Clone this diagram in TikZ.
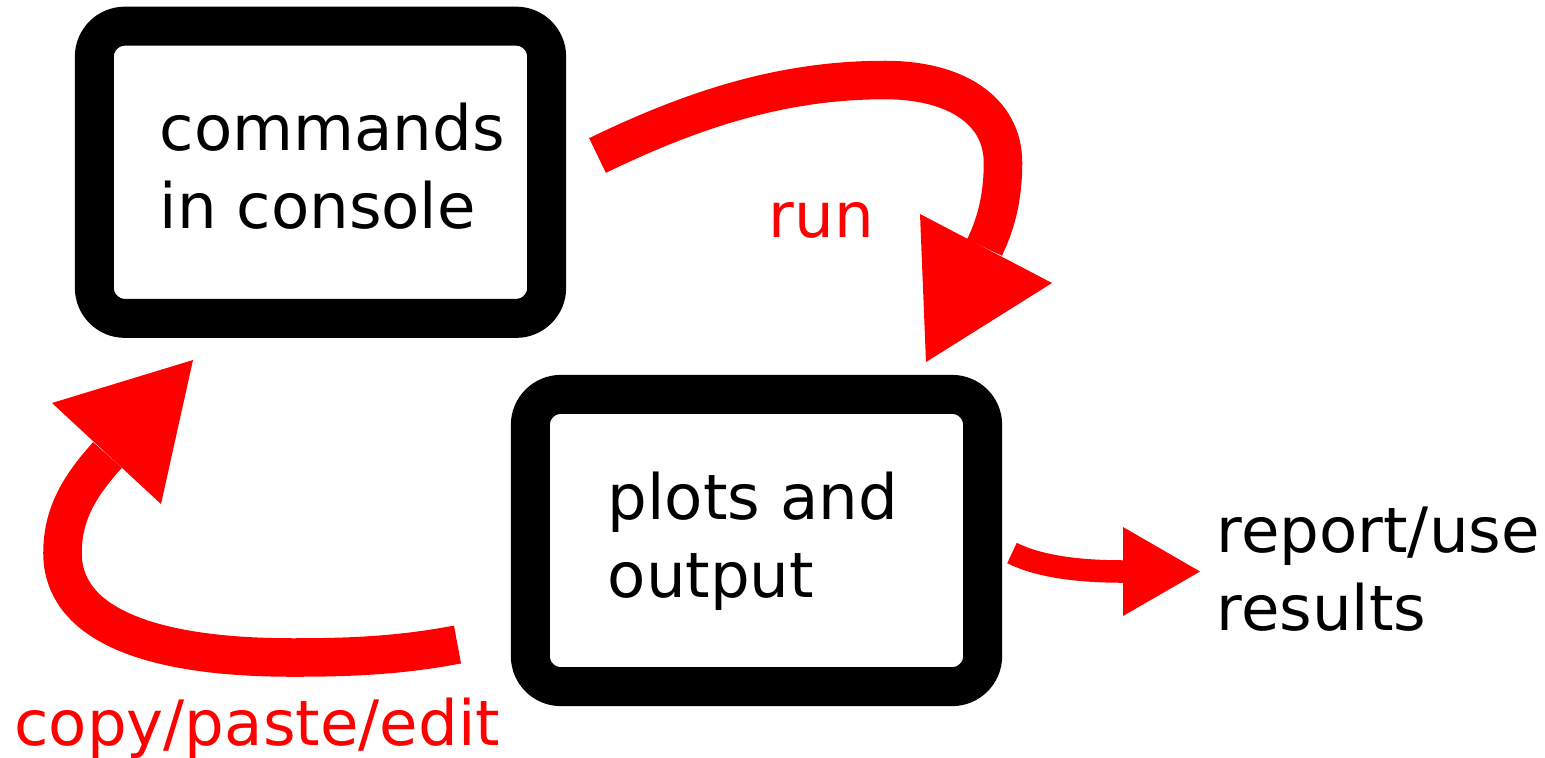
\documentclass[tikz,border=0pt]{standalone}
\usepackage{fontspec}
\setmainfont{DejaVu Sans}
\begin{document}
\begin{tikzpicture}[x=0.01cm,y=-0.01cm,
  panel/.style={draw=black,line width=0.39cm,rounded corners=0.305cm,
    inner sep=0pt,minimum width=4.52cm,minimum height=2.92cm},
  caption/.style={anchor=base west,inner sep=0pt,align=left,
    font=\fontsize{17.8pt}{22.03pt}\selectfont},
  flow/.style={draw=red,line width=0.385cm},
  thinflow/.style={draw=red,line width=0.225cm},
  headfill/.style={fill=red}]
\useasboundingbox (0,0) rectangle (1545,757);

% the two boxes
\node[panel] (console) at (320.5,172.25) {};
\node[panel] (plots) at (756.5,540.5) {};

% their texts and the free-standing labels (base = last line)
\node[caption] (consoletext) at (159,228) {commands\\in console};
\node[caption] (plotstext) at (607,597) {plots and\\output};
\node[caption] (resulttext) at (1216,630) {report/use\\results};
\node[caption,text=red] (runtext) at (768,237) {run};
\node[caption,text=red] (copytext) at (13.6,745) {copy/paste/edit};

% points of the "run" arrow
\coordinate (runS) at (597.5,155.5);
\coordinate (runP) at (885,80);
\coordinate (runR) at (1003,163);
\coordinate (runM) at (984.5,247.5);
\coordinate (runA) at (920,214);
\coordinate (runB) at (1052,283);
\coordinate (runT) at (926,362);

\draw[flow] (runS) .. controls (696.5,107.5) and (785,80) .. (runP)
  .. controls (955,80) and (1003,110) .. (runR)
  .. controls (1003,192) and (998,220) .. (runM);
\fill[headfill] (runA) -- (runT) -- (runB) -- cycle;

% points of the "copy/paste/edit" arrow
\coordinate (copyS) at (457.5,644.5);
\coordinate (copyB) at (293,657.5);
\coordinate (copyL) at (62.5,553);
\coordinate (copyM) at (107.5,455);
\coordinate (copyA) at (52,403);
\coordinate (copyC) at (161,504);
\coordinate (copyT) at (193,360);

\draw[flow] (copyS) .. controls (398.6,655.7) and (348,657.5) .. (copyB)
  .. controls (140,657.5) and (62.5,620) .. (copyL)
  .. controls (62.5,513) and (80.7,484.7) .. (copyM);
\fill[headfill] (copyA) -- (copyT) -- (copyC) -- cycle;

% points of the short arrow to the results
\coordinate (outS) at (1012,553);
\coordinate (outM) at (1123,571.5);
\coordinate (outA) at (1123,527);
\coordinate (outC) at (1123,616);
\coordinate (outT) at (1200,571.5);

\draw[thinflow] (outS) .. controls (1038.8,566.4) and (1078,571.5) .. (outM);
\fill[headfill] (outA) -- (outT) -- (outC) -- cycle;
\end{tikzpicture}
\end{document}
